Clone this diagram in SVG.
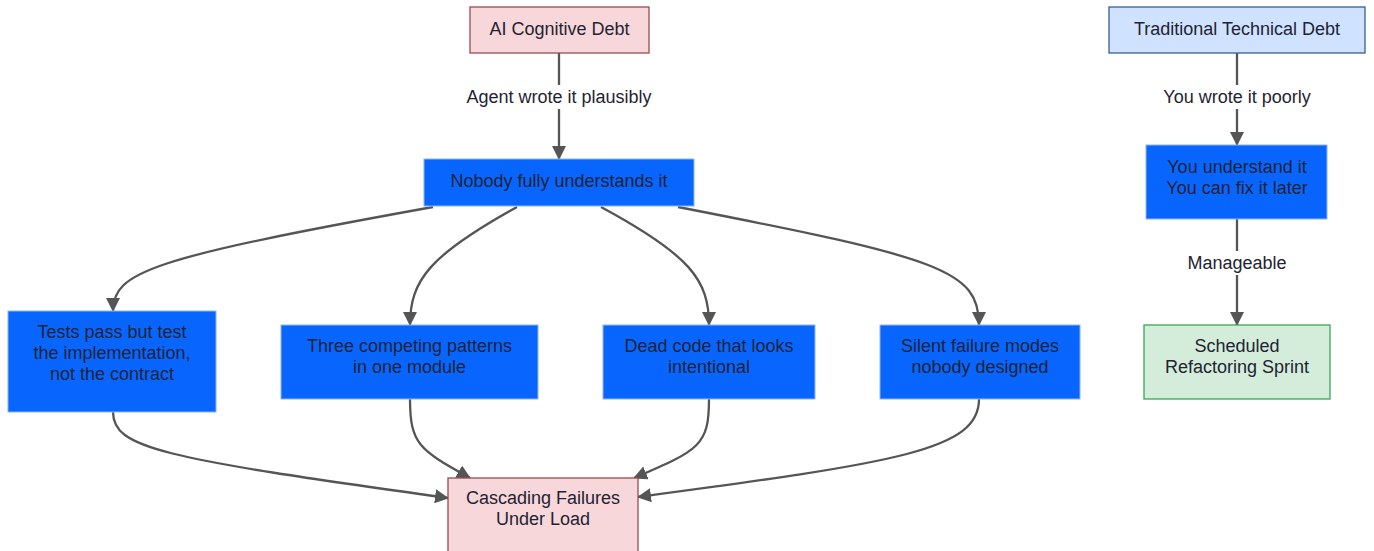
<svg xmlns="http://www.w3.org/2000/svg" width="1374" height="551" viewBox="0 0 1374 551">
<style>
text{font-family:"Liberation Sans",Arial,sans-serif;font-size:18px;fill:#1f2333;text-anchor:middle}
.e{fill:none;stroke:#555;stroke-width:2.3}
.blue{fill:#0866ff;stroke:#8db4f7;stroke-width:1}
.red{fill:#f8d7da;stroke:#9a4a52;stroke-width:1.3}
.lb{fill:#cfe2ff;stroke:#3a5f95;stroke-width:1.3}
.gr{fill:#d4edda;stroke:#3aa655;stroke-width:1.3}
.bg{fill:#fff}
</style>
<defs>
<marker id="ah" viewBox="0 0 14 14" refX="13" refY="7" markerWidth="14" markerHeight="14" markerUnits="userSpaceOnUse" orient="auto">
<path d="M0,0 L14,7 L0,14 z" fill="#555"/>
</marker>
</defs>
<rect width="1374" height="551" fill="#fff"/>
<g id="connectors">
<path class="e" d="M559,53 L559,159" marker-end="url(#ah)"/>
<path class="e" d="M433,207 C150,258 113,272 113,311" marker-end="url(#ah)"/>
<path class="e" d="M517,207 C430,255 410,280 410,325" marker-end="url(#ah)"/>
<path class="e" d="M601,207 C690,255 709,280 709,325" marker-end="url(#ah)"/>
<path class="e" d="M678,207 C940,258 979,270 979,325" marker-end="url(#ah)"/>
<path class="e" d="M113,412 C113,448 160,458 448,498" marker-end="url(#ah)"/>
<path class="e" d="M410,399 C410,445 420,450 470,478" marker-end="url(#ah)"/>
<path class="e" d="M709,399 C709,445 700,450 634,478" marker-end="url(#ah)"/>
<path class="e" d="M979,399 C979,450 900,462 638,497" marker-end="url(#ah)"/>
<path class="e" d="M1237,53 L1237,145" marker-end="url(#ah)"/>
<path class="e" d="M1237,219 L1237,325" marker-end="url(#ah)"/>
<rect class="bg" x="462" y="85" width="194" height="24"/>
<text x="559" y="103">Agent wrote it plausibly</text>
<rect class="bg" x="1159" y="85" width="156" height="24"/>
<text x="1237" y="103">You wrote it poorly</text>
<rect class="bg" x="1184" y="251" width="106" height="24"/>
<text x="1237" y="269">Manageable</text>
</g>
<g id="ai"><rect class="red" x="470" y="7" width="179" height="46"/><text x="559.5" y="35">AI Cognitive Debt</text></g>
<g id="nobody"><rect class="blue" x="424" y="159" width="270" height="47"/><text x="559" y="187">Nobody fully understands it</text></g>
<g id="trad"><rect class="lb" x="1109" y="7" width="256" height="46"/><text x="1237" y="35">Traditional Technical Debt</text></g>
<g id="understand"><rect class="blue" x="1146" y="145" width="181" height="74"/><text x="1237" y="173">You understand it</text><text x="1237" y="194">You can fix it later</text></g>
<g id="sprint"><rect class="gr" x="1144" y="325" width="186" height="74"/><text x="1237" y="352">Scheduled</text><text x="1237" y="373">Refactoring Sprint</text></g>
<g id="tests"><rect class="blue" x="8" y="311" width="208" height="101"/><text x="112" y="338">Tests pass but test</text><text x="112" y="359">the implementation,</text><text x="112" y="380">not the contract</text></g>
<g id="three"><rect class="blue" x="281" y="325" width="257" height="74"/><text x="409.5" y="352">Three competing patterns</text><text x="409.5" y="373">in one module</text></g>
<g id="dead"><rect class="blue" x="603" y="325" width="212" height="74"/><text x="709" y="352">Dead code that looks</text><text x="709" y="373">intentional</text></g>
<g id="silent"><rect class="blue" x="880" y="325" width="200" height="74"/><text x="980" y="352">Silent failure modes</text><text x="980" y="373">nobody designed</text></g>
<g id="cascade"><rect class="red" x="448" y="478" width="190" height="76"/><text x="543" y="504">Cascading Failures</text><text x="543" y="525">Under Load</text></g>
</svg>
